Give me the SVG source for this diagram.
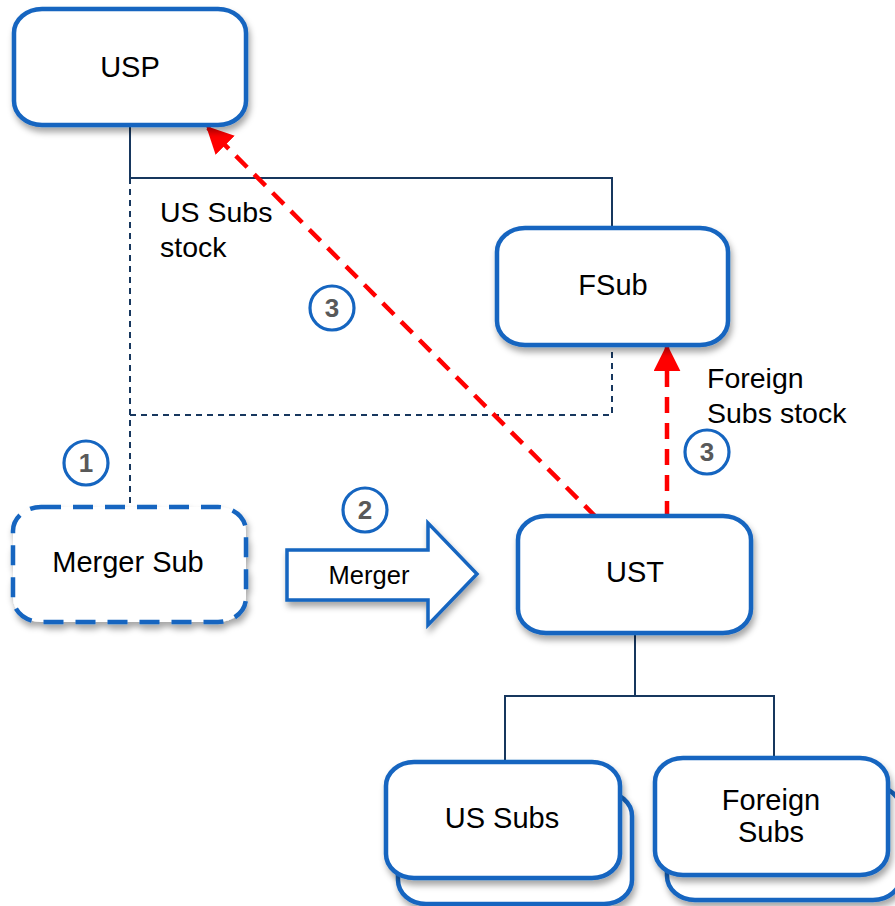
<svg xmlns="http://www.w3.org/2000/svg" width="895" height="906" viewBox="0 0 895 906">
<defs>
<filter id="sh" x="-10%" y="-10%" width="125%" height="130%">
<feDropShadow dx="2" dy="5" stdDeviation="3" flood-color="#000" flood-opacity="0.35"/>
</filter>
<marker id="ah" viewBox="0 0 10 10" refX="9" refY="5" markerWidth="6" markerHeight="6" markerUnits="strokeWidth" orient="auto">
<path d="M0,0 L10,5 L0,10 Z" fill="#FF0000"/>
</marker>
<style>
.box{fill:#fff;stroke:#1565C0;stroke-width:4.5;filter:url(#sh)}
.dbox{fill:#fff;stroke:#1565C0;stroke-width:4.5;stroke-dasharray:20 12;filter:url(#sh)}
.lbl{font-family:"Liberation Sans",Arial,sans-serif;font-size:29px;fill:#000;text-anchor:middle}
.txt{font-family:"Liberation Sans",Arial,sans-serif;font-size:28.5px;fill:#000}
.num{font-family:"Liberation Sans",Arial,sans-serif;font-size:26px;font-weight:bold;fill:#595959;text-anchor:middle}
.circ{fill:#fff;stroke:#1565C0;stroke-width:3.2}
.solid{fill:none;stroke:#17375E;stroke-width:2}
.dash{fill:none;stroke:#17375E;stroke-width:2;stroke-dasharray:6 5}
.red{fill:none;stroke:#FF0000;stroke-width:4.5;stroke-dasharray:16 10}
</style>
</defs>
<g id="connectors">
<path class="solid" d="M130,126 V178 H612 V228"/>
<path class="dash" d="M130,178 V505"/>
<path class="dash" d="M130,415 H612 V346"/>
<path class="solid" d="M635,633 V696 H505 V762"/>
<path class="solid" d="M635,696 H774 V758"/>
<path class="red" d="M596,517 L208,128" marker-end="url(#ah)"/>
<path class="red" d="M667,517 V347" marker-end="url(#ah)"/>
</g>
<g id="usp">
<rect class="box" x="14" y="9" width="232" height="116" rx="28" ry="24"/>
<text class="lbl" x="130" y="77">USP</text>
</g>
<g id="fsub">
<rect class="box" x="497" y="228" width="231" height="117" rx="28" ry="24"/>
<text class="lbl" x="613" y="295">FSub</text>
</g>
<g id="mergersub">
<rect class="dbox" x="13" y="507" width="233" height="115" rx="28" ry="24"/>
<text class="lbl" x="128" y="572">Merger Sub</text>
</g>
<g id="merger-arrow">
<path d="M287,550 H428 V523 L477,574 L428,625 V600 H287 Z" fill="#fff" stroke="#1565C0" stroke-width="3.5" stroke-linejoin="miter" filter="url(#sh)"/>
<text class="lbl" x="369" y="584" style="font-size:25.5px">Merger</text>
</g>
<g id="ust">
<rect class="box" x="518" y="516" width="233" height="117" rx="28" ry="24"/>
<text class="lbl" x="635" y="582">UST</text>
</g>
<g id="ussubs">
<rect class="box" x="398" y="792" width="234" height="112" rx="28" ry="24"/>
<rect class="box" x="386" y="762" width="234" height="116" rx="28" ry="24"/>
<text class="lbl" x="502" y="828">US Subs</text>
</g>
<g id="foreignsubs">
<rect class="box" x="667" y="786" width="234" height="114" rx="28" ry="24"/>
<rect class="box" x="655" y="758" width="233" height="117" rx="28" ry="24"/>
<text class="lbl" x="771" y="810">Foreign</text>
<text class="lbl" x="771" y="842">Subs</text>
</g>
<g id="labels">
<text class="txt" x="160" y="222">US Subs</text>
<text class="txt" x="160" y="257">stock</text>
<text class="txt" x="707" y="388">Foreign</text>
<text class="txt" x="707" y="423">Subs stock</text>
</g>
<g id="step1">
<circle class="circ" cx="86" cy="463" r="22"/>
<text class="num" x="86" y="472">1</text>
</g>
<g id="step2">
<circle class="circ" cx="365" cy="510" r="22"/>
<text class="num" x="365" y="519">2</text>
</g>
<g id="step3a">
<circle class="circ" cx="332" cy="308" r="22"/>
<text class="num" x="332" y="317">3</text>
</g>
<g id="step3b">
<circle class="circ" cx="707" cy="452" r="22"/>
<text class="num" x="707" y="461">3</text>
</g>
</svg>
